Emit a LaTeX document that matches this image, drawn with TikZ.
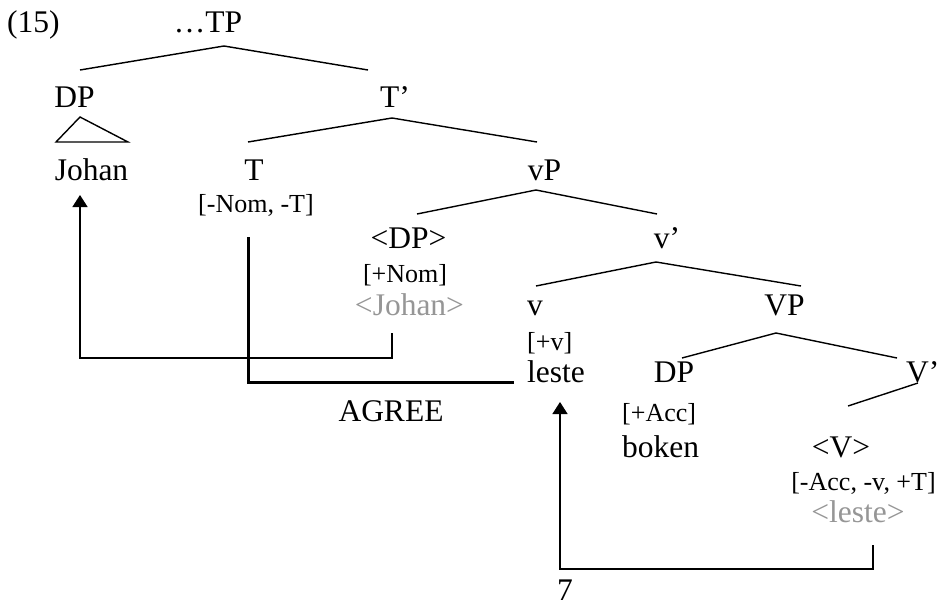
\documentclass[tikz,border=0pt]{standalone}
\usepackage{fontspec}
\setmainfont{Liberation Serif}
\usepackage{xcolor}
\usetikzlibrary{arrows.meta}

\definecolor{tracegray}{RGB}{150,150,150}
\tikzset{
  big/.style={anchor=base,inner sep=0pt,font=\fontsize{31.5}{36}\selectfont},
  small/.style={anchor=base,inner sep=0pt,font=\fontsize{26}{30}\selectfont},
  trace/.style={big,text=tracegray},
  branch/.style={line width=1.4pt},
  movearrow/.style={line width=1.4pt,-{Triangle[width=15pt,length=12pt]}},
  agreeline/.style={line width=3pt,line cap=rect}
}

\begin{document}
\begin{tikzpicture}[x=1pt,y=-1pt]
\useasboundingbox (0,0) rectangle (940,602);

% Text Node
\node[big,anchor=base west] (exnum) at (7,33) {(15)};
\node[big] (TP) at (208,33) {\ldots TP};
\node[big] (DPa) at (74.5,107) {DP};
\node[big] (Tbar) at (395,107) {T’};
\node[big] (johan) at (91.5,180) {Johan};
\node[big] (T) at (254,180) {T};
\node[small] (Tfeat) at (256,212) {[-Nom, -T]};
\node[big] (vP) at (544.5,180) {vP};
\node[big] (DPtr) at (408.5,248) {<DP>};
\node[small] (DPfeat) at (405,282) {[+Nom]};
\node[trace] (johantr) at (409.5,315) {<Johan>};
\node[big] (vbar) at (667,248) {v’};
\node[big,anchor=base west] (v) at (527,315) {v};
\node[small,anchor=base west] (vfeat) at (527,350) {[+v]};
\node[big,anchor=base west] (leste) at (527,382) {leste};
\node[big] (VP) at (784.5,315) {VP};
\node[big] (DPb) at (674,382) {DP};
\node[small,anchor=base west] (DPbfeat) at (622,421) {[+Acc]};
\node[big,anchor=base west] (boken) at (622,457) {boken};
\node[big,anchor=base west] (Vbar) at (906,382) {V’};
\node[big] (Vtr) at (841,457) {<V>};
\node[small] (Vfeat) at (863.5,490) {[-Acc, -v, +T]};
\node[trace] (lestetr) at (858,522) {<leste>};
\node[big] (agree) at (391,421) {AGREE};
\node[big] (seven) at (565,600) {7};

% branch points
\coordinate (TPa) at (224,46);   \coordinate (DPat) at (80,70);    \coordinate (Tbart) at (368,70);
\coordinate (tri) at (80,117);   \coordinate (triL) at (56,142);   \coordinate (triR) at (128,142);
\coordinate (Tbara) at (392,118);\coordinate (Tt) at (248,142);    \coordinate (vPt) at (537,142);
\coordinate (vPa) at (536,190);  \coordinate (DPtrt) at (417,214); \coordinate (vbart) at (657,214);
\coordinate (vbara) at (656,262);\coordinate (vt) at (536,286);    \coordinate (VPt) at (801,286);
\coordinate (VPa) at (776,333);  \coordinate (DPbt) at (682,358);  \coordinate (Vbart) at (897,358);
\coordinate (Vbara) at (918,383);\coordinate (Vtrt) at (848,406);

%Shape: tree lines
\draw[branch] (DPat) -- (TPa) -- (Tbart);
\draw[branch] (tri) -- (triL) -- (triR) -- cycle;
\draw[branch] (Tt) -- (Tbara) -- (vPt);
\draw[branch] (DPtrt) -- (vPa) -- (vbart);
\draw[branch] (vt) -- (vbara) -- (VPt);
\draw[branch] (DPbt) -- (VPa) -- (Vbart);
\draw[branch] (Vbara) -- (Vtrt);

% movement and agree
\coordinate (johanfoot) at (392,333);
\coordinate (johanhead) at (80,195);
\coordinate (agreeT) at (248,238);
\coordinate (agreev) at (512,382);
\coordinate (lestefoot) at (873,545);
\coordinate (lestehead) at (560,402);
\draw[movearrow] (johanfoot) |- (80,358) -- (johanhead);
\draw[agreeline] (agreeT) |- (agreev);
\draw[movearrow] (lestefoot) |- (560,569) -- (lestehead);

\end{tikzpicture}
\end{document}
